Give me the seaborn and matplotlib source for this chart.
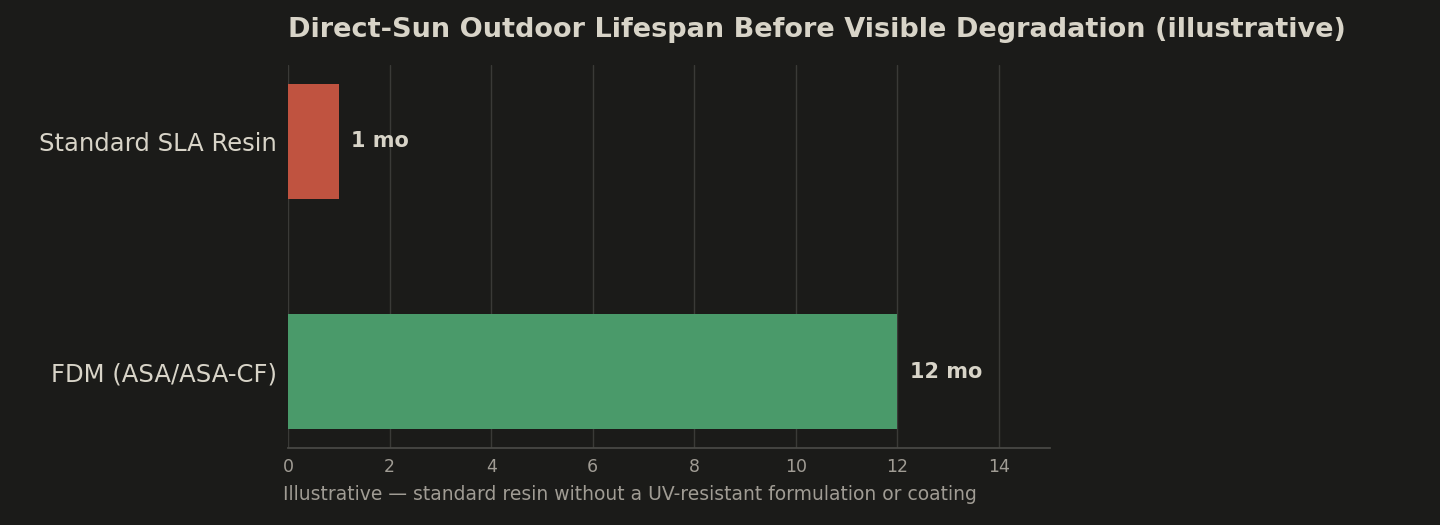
import matplotlib
matplotlib.use("Agg")
import matplotlib.pyplot as plt
import seaborn as sns
import pandas as pd

materials = ["Standard SLA Resin", "FDM (ASA/ASA-CF)"]
months = [1, 12]
colors = ["#c05340", "#4a9a6a"]

bg = "#1b1b19"
fg = "#d8d4c8"
muted = "#a09c94"

sns.set_theme(style="dark")
plt.rcParams['font.family'] = ['DejaVu Sans']

df = pd.DataFrame({"material": materials, "months": months})

fig = plt.figure(figsize=(14.4, 5.25), dpi=100, facecolor=bg)
ax = fig.add_axes([0.2, 0.147, 0.529, 0.729])
ax.set_facecolor(bg)

sns.barplot(data=df, y="material", x="months", hue="material", palette=colors,
            orient="h", width=0.5, saturation=1, linewidth=0, legend=False,
            ax=ax, zorder=3)

for i, v in enumerate(months):
    ax.text(v + 0.25, i, f"{v} mo", va="center", ha="left", color=fg,
            fontsize=15, fontweight="bold")

ax.set_xlim(0, 15)
ax.set_ylim(1.33, -0.33)
ax.set_xticks(range(0, 16, 2))
ax.grid(axis="x", color="#3a3a37", linewidth=1, zorder=0)
ax.grid(axis="y", visible=False)
for s in ["top", "right", "left"]:
    ax.spines[s].set_visible(False)
ax.spines["bottom"].set_color("#4a4a46")
ax.tick_params(axis="x", colors=muted, labelsize=12.5, length=4, color="#4a4a46")
ax.tick_params(axis="y", colors=fg, labelsize=17.5, length=0, pad=8)
ax.set_ylabel("")
ax.set_xlabel("Illustrative \u2014 standard resin without a UV-resistant formulation or coating",
              color=muted, fontsize=13.5, labelpad=6, loc="left")
ax.xaxis.label.set_x(-0.007)
ax.set_title("Direct-Sun Outdoor Lifespan Before Visible Degradation (illustrative)",
             loc="left", color=fg, fontsize=19.5, fontweight="bold", pad=20)

fig.savefig("out.png", dpi=100, facecolor=bg)
